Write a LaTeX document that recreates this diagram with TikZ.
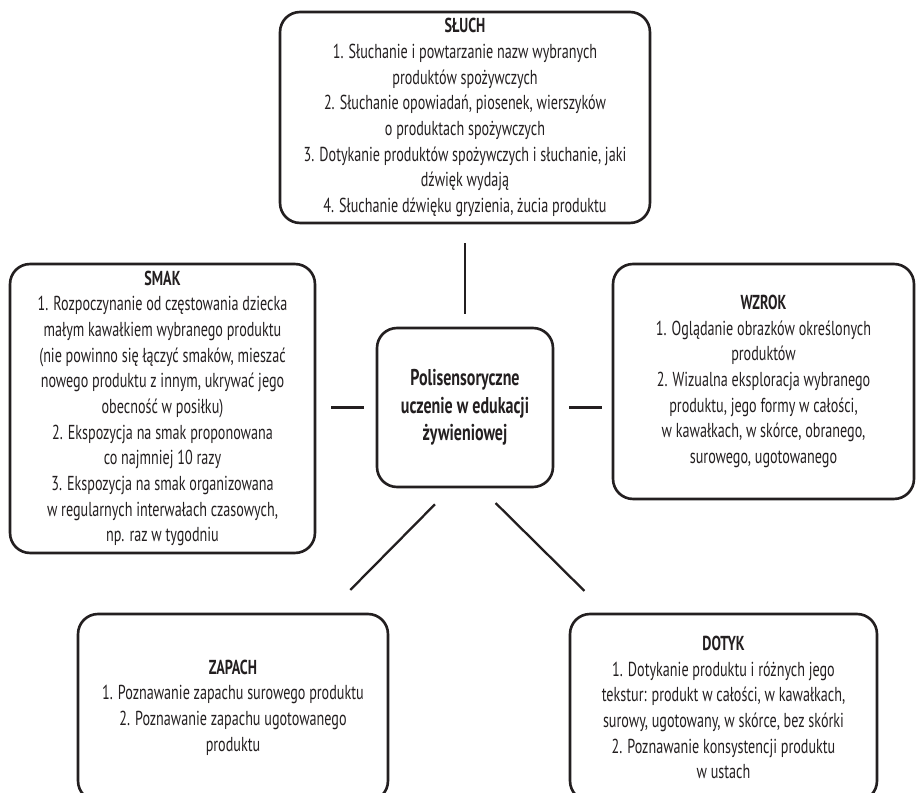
\documentclass[tikz,border=0pt]{standalone}
\usepackage{fontspec}
\setmainfont{PT Sans}[FakeStretch=0.7]
\usepackage{tikz}
\usetikzlibrary{positioning}
\definecolor{inkblack}{RGB}{35,31,32}

\begin{document}
\begin{tikzpicture}[x=0.02cm, y=-0.02cm,
    sensebox/.style={draw=inkblack, line width=1.5pt, rounded corners=0.4cm, align=center, inner sep=0pt, text=inkblack, font=\fontsize{11.5}{14.6}\selectfont},
    link/.style={draw=inkblack, line width=1.3pt}]
    \useasboundingbox (0,0) rectangle (916,793);

    \node[sensebox, minimum width=3.52cm, minimum height=3.18cm, font=\bfseries\fontsize{13}{15.6}\selectfont] (center) at (465,407.5) {Polisensoryczne\\uczenie w edukacji\\żywieniowej};

    \node[sensebox, minimum width=7.4cm, minimum height=4.22cm] (sluch) at (465,117.5) {\textbf{SŁUCH}\\1. Słuchanie i powtarzanie nazw wybranych\\produktów spożywczych\\2. Słuchanie opowiadań, piosenek, wierszyków\\o produktach spożywczych\\3. Dotykanie produktów spożywczych i słuchanie, jaki\\dźwięk wydają\\4. Słuchanie dźwięku gryzienia, żucia produktu};
    \node[sensebox, minimum width=6.1cm, minimum height=5.78cm] (smak) at (162.5,408.5) {\textbf{SMAK}\\1. Rozpoczynanie od częstowania dziecka\\małym kawałkiem wybranego produktu\\(nie powinno się łączyć smaków, mieszać\\nowego produktu z innym, ukrywać jego\\obecność w posiłku)\\2. Ekspozycja na smak proponowana\\co najmniej 10 razy\\3. Ekspozycja na smak organizowana\\w regularnych interwałach czasowych,\\np. raz w tygodniu};
    \node[sensebox, minimum width=6.02cm, minimum height=4.7cm] (wzrok) at (763.5,381.5) {\textbf{WZROK}\\1. Oglądanie obrazków określonych\\produktów\\2. Wizualna eksploracja wybranego\\produktu, jego formy w całości,\\w kawałkach, w skórce, obranego,\\surowego, ugotowanego};
    \node[sensebox, minimum width=6.2cm, minimum height=3.74cm] (zapach) at (233,707.5) {\textbf{ZAPACH}\\1. Poznawanie zapachu surowego produktu\\2. Poznawanie zapachu ugotowanego\\produktu};
    \node[sensebox, minimum width=6.14cm, minimum height=3.74cm] (dotyk) at (723.5,707.5) {\textbf{DOTYK}\\1. Dotykanie produktu i różnych jego\\tekstur: produkt w całości, w kawałkach,\\surowy, ugotowany, w skórce, bez skórki\\2. Poznawanie konsystencji produktu\\w ustach};

    \draw[link, shorten <=0.26cm, shorten >=0.38cm] (center.north) -- (center.north |- sluch.south);
    \draw[link, shorten <=0.24cm, shorten >=0.3cm] (center.west) -- (center.west -| smak.east);
    \draw[link, shorten <=0.3cm, shorten >=0.2cm] (center.east) -- (center.east -| wzrok.west);
    \draw[link, shorten <=0.45cm, shorten >=0.64cm] (center.260) -- (zapach.45);
    \draw[link, shorten <=0.42cm, shorten >=0.62cm] (center.281) -- (dotyk.141.3);
\end{tikzpicture}
\end{document}
